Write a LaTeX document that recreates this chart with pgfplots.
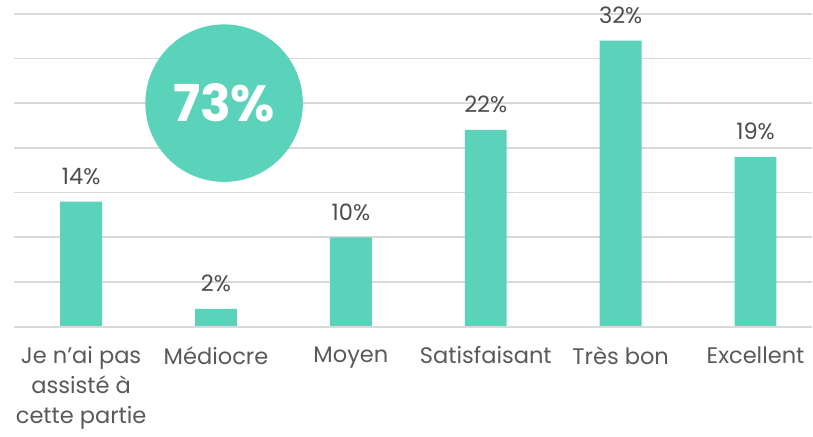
\documentclass[border=0pt]{standalone}
\usepackage{fontspec}
\setmainfont{Poppins}
\usepackage{pgfplots}
\pgfplotsset{compat=1.18}
\definecolor{teal}{HTML}{5BD3BB}
\definecolor{gridgray}{HTML}{D9D9D9}
\definecolor{labgray}{HTML}{595959}
\begin{document}
\begin{tikzpicture}
\begin{axis}[
    scale only axis,
    width=400.5pt, height=157pt,
    ybar, bar width=21pt,
    xmin=-0.5, xmax=5.42,
    ymin=0, ymax=35,
    xtick={0,1,2,3,4,5},
    xticklabels={{Je n'ai pas\\assisté à\\cette partie},Médiocre,Moyen,Satisfaisant,Très bon,Excellent},
    xticklabel style={align=center, font=\fontsize{11.3}{15}\selectfont, text=labgray, anchor=north, yshift=-6.5pt},
    major tick length=0pt,
    ytick={0,5,...,35},
    yticklabels={},
    ymajorgrids=true,
    grid style={gridgray, line width=0.8pt},
    axis line style={draw=none},
    axis x line*=bottom,
    nodes near coords={\pgfmathprintnumber[assume math mode=true]{\pgfplotspointmeta}\%},
    every node near coord/.append style={font=\fontsize{11.3}{12}\selectfont, text=labgray!85!black, yshift=5pt},
    clip=false,
]
\addplot[fill=teal, draw=none] coordinates {(0,14) (1,2) (2,10) (3,22) (4,32) (5,19)};
\draw[gridgray, line width=0.8pt] (axis cs:-0.5,0) -- (axis cs:5.42,0);
\fill[teal] (axis cs:1.06,25.0) circle[radius=39.5pt];
\node[text=white, font=\bfseries\fontsize{25.5}{28}\selectfont] at (axis cs:1.06,25.0) {73\%};
\end{axis}
\end{tikzpicture}
\end{document}
